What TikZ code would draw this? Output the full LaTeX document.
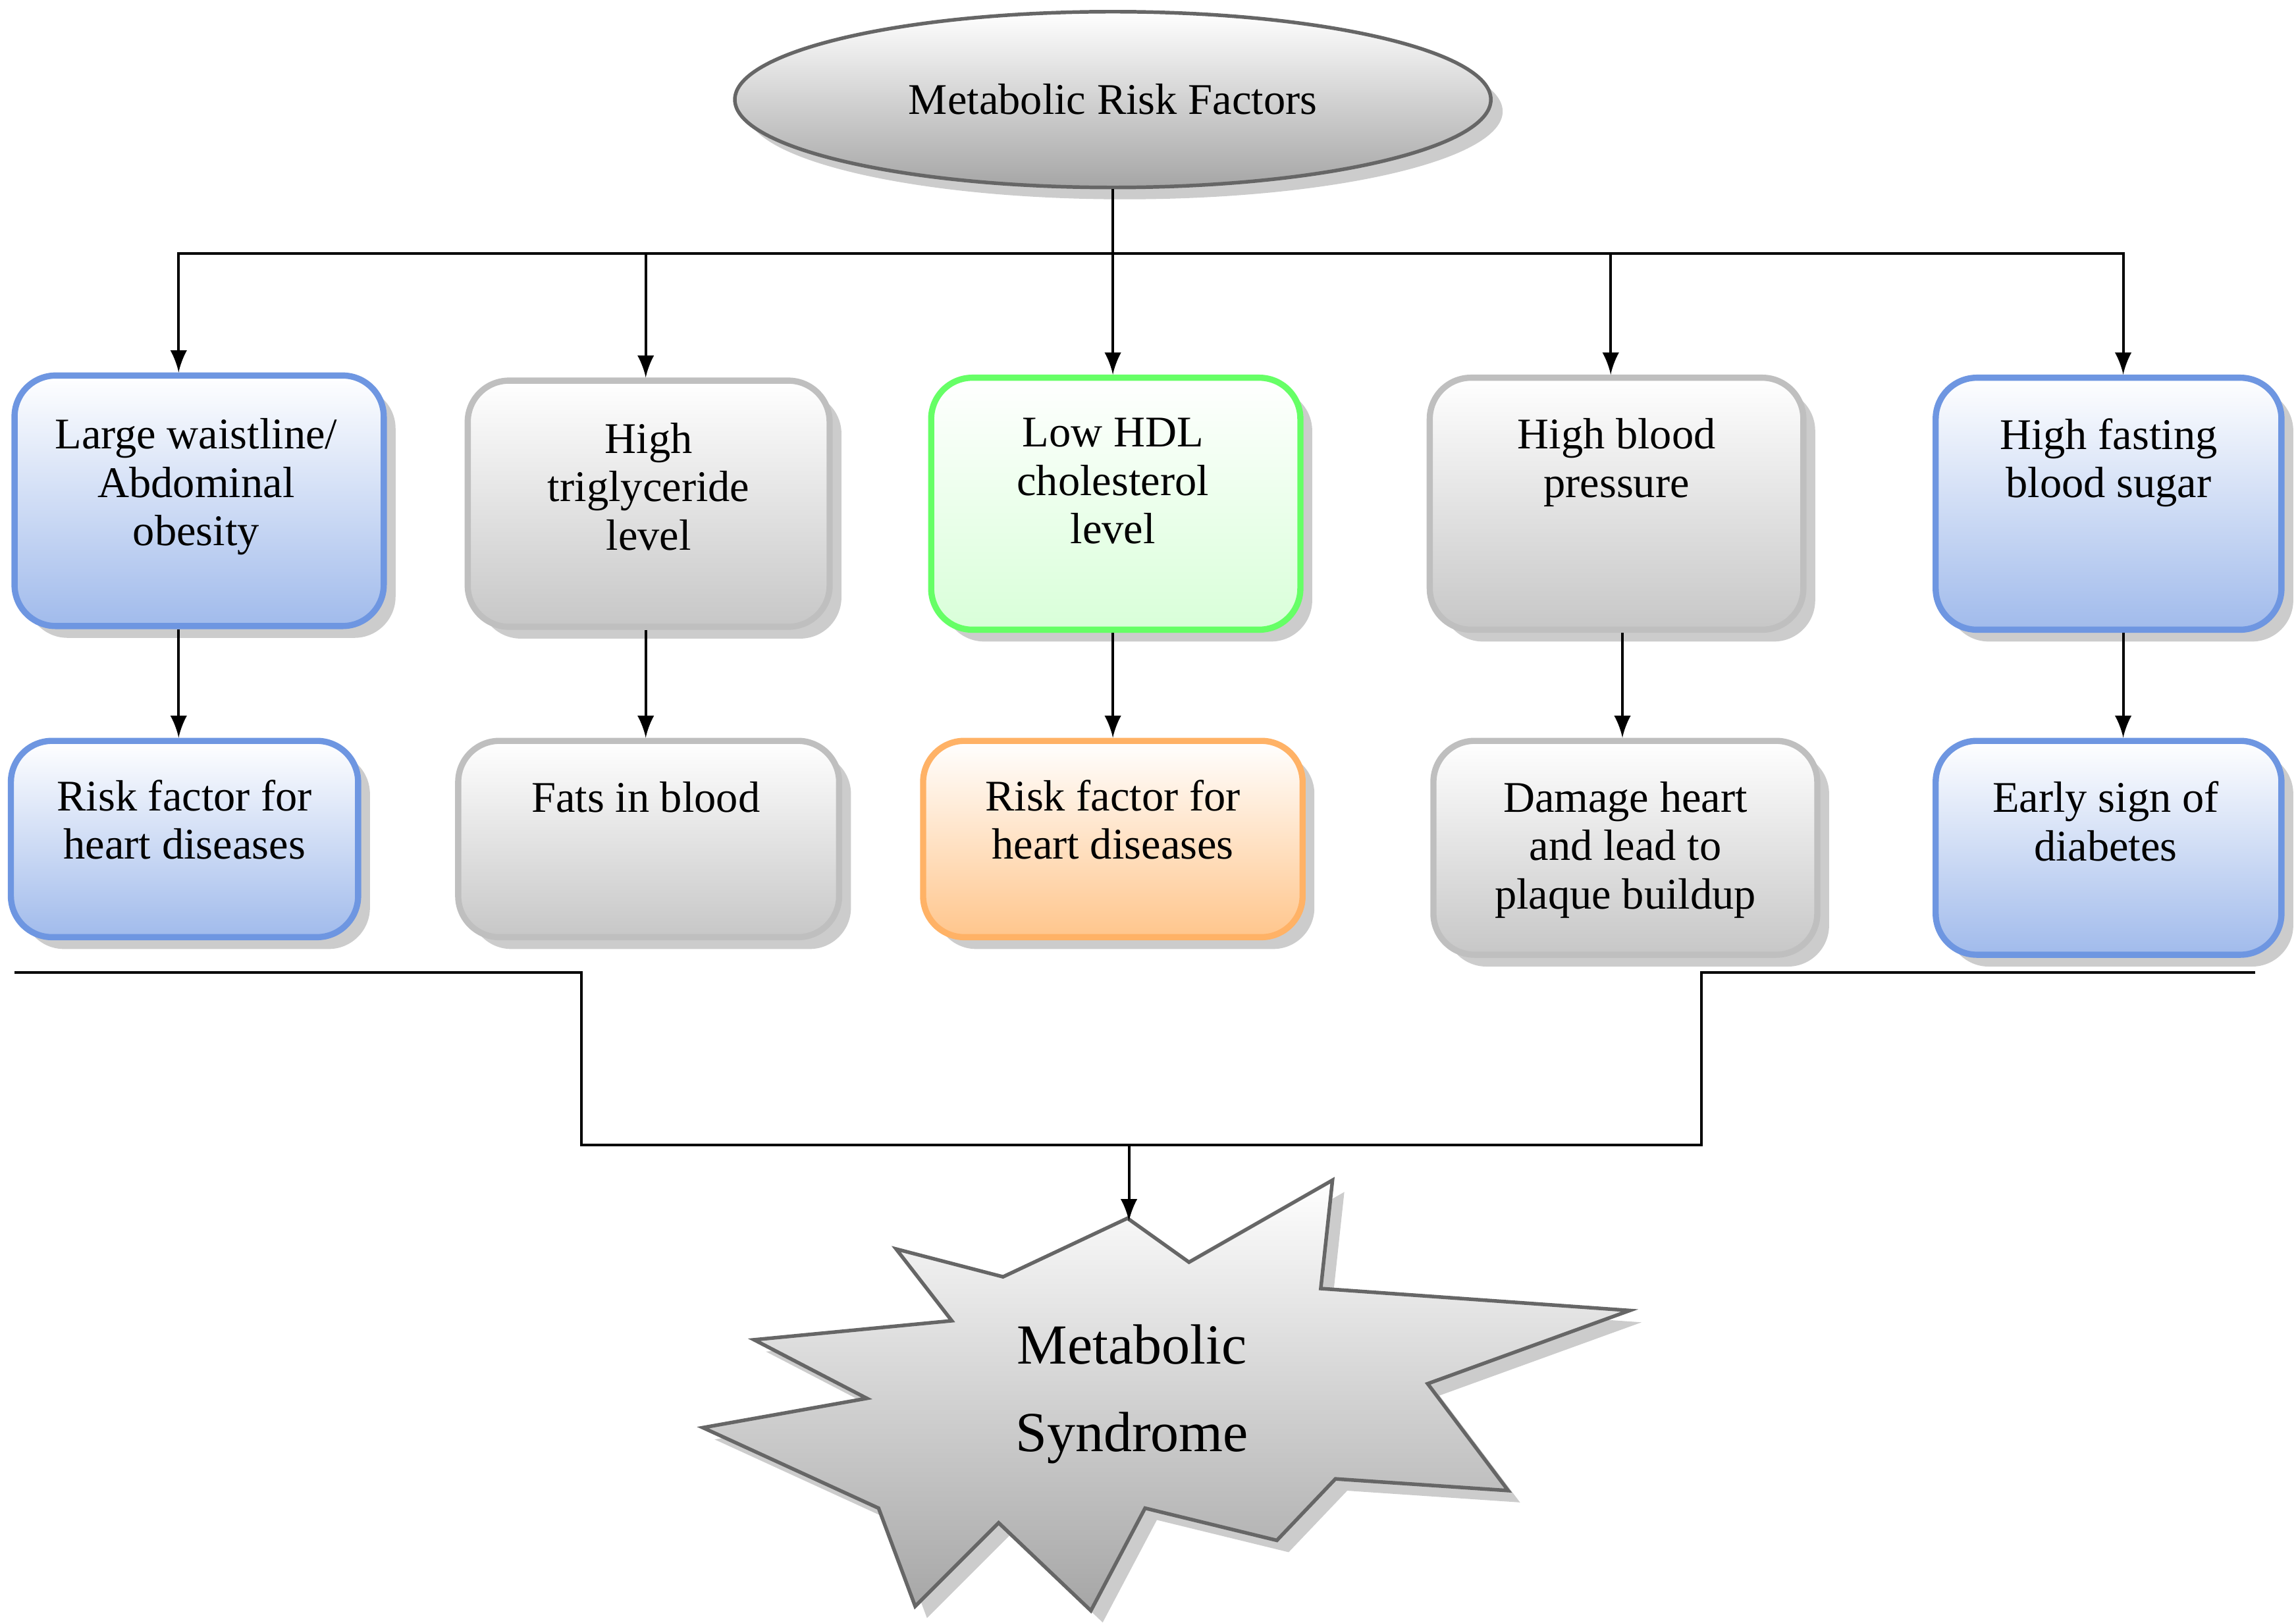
\documentclass[tikz,border=0pt]{standalone}
\usepackage{fontspec}
\setmainfont{Liberation Serif}
\usetikzlibrary{shadows,shapes.geometric}
\definecolor{cornblue}{RGB}{110,150,225}
\begin{document}
\begin{tikzpicture}[x=0.01cm,y=-0.01cm,
bluebox/.style={rectangle,rounded corners=8pt,draw=cornblue,line width=1.2pt,top color=white,bottom color=cornblue!65,drop shadow={opacity=0.4}},
graybox/.style={rectangle,rounded corners=8pt,draw=black!25,line width=1.2pt,top color=white,bottom color=black!22,drop shadow={opacity=0.4}},
greenbox/.style={rectangle,rounded corners=8pt,draw=green!60,line width=1.2pt,top color=white,bottom color=green!15,drop shadow={opacity=0.4}},
orangebox/.style={rectangle,rounded corners=8pt,draw=orange!60,line width=1.2pt,top color=white,bottom color=orange!45,drop shadow={opacity=0.4}},
txt/.style={align=center,font=\fontsize{8.5}{9.4}\selectfont,inner sep=0pt},
arr/.style={->,>=latex,line width=0.5pt}]

\useasboundingbox (0,0) rectangle (1568,1108);

% Title
\node[ellipse,draw=black!60,line width=0.7pt,minimum width=5.16cm,minimum height=1.2cm,top color=white,bottom color=black!35,drop shadow={opacity=0.4},font=\fontsize{8.5}{9.4}\selectfont] (risk) at (760,68) {Metabolic Risk Factors};

% Risk factors
\node[bluebox,minimum width=2.52cm,minimum height=1.71cm] (waist) at (136,342) {};
\node[graybox,minimum width=2.47cm,minimum height=1.68cm] (trig) at (443,344) {};
\node[greenbox,minimum width=2.52cm,minimum height=1.72cm] (hdl) at (762,344) {};
\node[graybox,minimum width=2.55cm,minimum height=1.72cm] (bp) at (1104,344) {};
\node[bluebox,minimum width=2.36cm,minimum height=1.72cm] (sugar) at (1440,344) {};
\node[txt,anchor=north] at (134,285) {Large waistline/\\Abdominal\\obesity};
\node[txt,anchor=north] at (443,288) {High\\triglyceride\\level};
\node[txt,anchor=north] at (760,285) {Low HDL\\cholesterol\\level};
\node[txt,anchor=north] at (1104,285) {High blood\\pressure};
\node[txt,anchor=north] at (1440,285) {High fasting\\blood sugar};

% Consequences
\node[bluebox,minimum width=2.37cm,minimum height=1.34cm] (heart1) at (126,573) {};
\node[graybox,minimum width=2.6cm,minimum height=1.34cm] (fats) at (443,573) {};
\node[orangebox,minimum width=2.59cm,minimum height=1.34cm] (heart2) at (760,573) {};
\node[graybox,minimum width=2.62cm,minimum height=1.46cm] (damage) at (1110,579) {};
\node[bluebox,minimum width=2.36cm,minimum height=1.46cm] (diab) at (1440,579) {};
\node[txt,anchor=north] at (126,532) {Risk factor for\\heart diseases};
\node[txt,anchor=north] at (441,533) {Fats in blood};
\node[txt,anchor=north] at (760,532) {Risk factor for\\heart diseases};
\node[txt,anchor=north] at (1110,533) {Damage heart\\and lead to\\plaque buildup};
\node[txt,anchor=north] at (1438,533) {Early sign of\\diabetes};

% Branches
\coordinate (bus) at (760,173);
\draw[line width=0.5pt] (risk.south) -- (bus);
\draw[arr] (bus) -- (hdl.north -| 760,0);
\draw[arr] (bus) -| (waist.north -| 122,0);
\draw[arr] (bus) -| (trig.north -| 441,0);
\draw[arr] (bus) -| (bp.north -| 1100,0);
\draw[arr] (bus) -| (sugar.north -| 1450,0);
\draw[arr] (waist.south -| 122,0) -- (heart1.north -| 122,0);
\draw[arr] (trig.south -| 441,0) -- (fats.north -| 441,0);
\draw[arr] (hdl.south -| 760,0) -- (heart2.north -| 760,0);
\draw[arr] (bp.south -| 1108,0) -- (damage.north -| 1108,0);
\draw[arr] (sugar.south -| 1450,0) -- (diab.north -| 1450,0);

% Collector
\coordinate (cl) at (10,664);
\coordinate (cr) at (1540,664);
\coordinate (join) at (771,782);
\draw[line width=0.5pt] (cl) -- (397,664) -- (397,782) -- (1162,782) -- (1162,664) -- (cr);

% Metabolic Syndrome
\draw[draw=black!60,line width=0.7pt,top color=white,bottom color=black!35,drop shadow={opacity=0.4}]
  (612,853) -- (685,872) -- (770,832) -- (812,862) -- (910,806) -- (902,880) -- (1113,895)
  -- (975,945) -- (1030,1018) -- (912,1010) -- (872,1052) -- (782,1030) -- (745,1100)
  -- (682,1040) -- (625,1097) -- (600,1030) -- (480,975) -- (592,955) -- (515,915)
  -- (650,902) -- cycle;
\node[align=center,font=\fontsize{11}{17}\selectfont] (syn) at (773,952) {Metabolic\\Syndrome};
\coordinate (tip) at (771,834);
\draw[arr] (join) -- (tip);

\end{tikzpicture}
\end{document}
